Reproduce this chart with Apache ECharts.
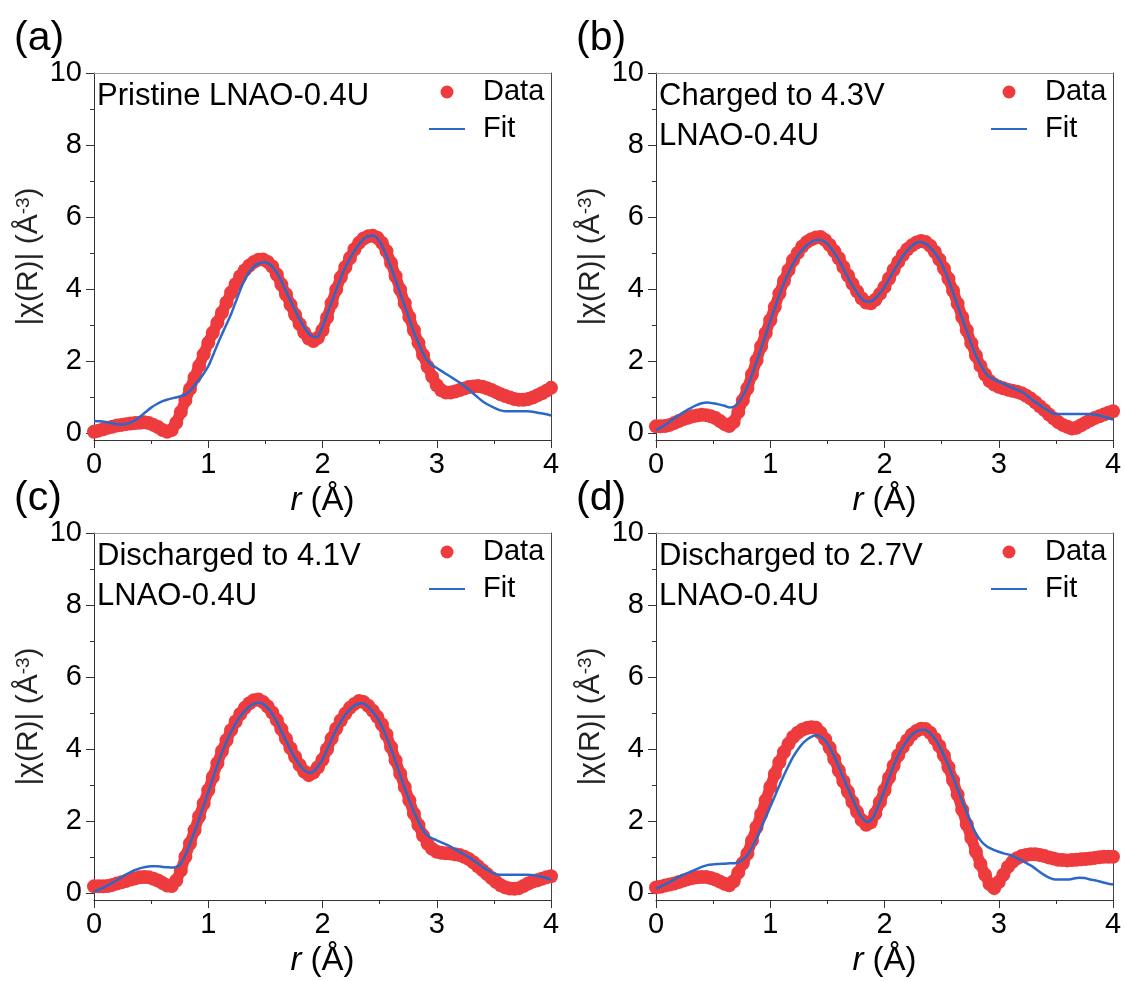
<!DOCTYPE html>
<html>
<head>
<meta charset="utf-8">
<title>EXAFS fits</title>
<script src="https://cdn.jsdelivr.net/npm/echarts@6/dist/echarts.min.js"></script>
<style>
  html, body { margin: 0; padding: 0; background: #fff; }
  #chart { width: 1126px; height: 981px; }
</style>
</head>
<body>
<div id="chart"></div>
<script>
// r grids (Å)
var rData = [
  0, 0.04, 0.08, 0.12, 0.16, 0.20, 0.24, 0.28, 0.32, 0.36,
  0.40, 0.44, 0.48, 0.52, 0.56, 0.60, 0.64, 0.68, 0.72, 0.76,
  0.80, 0.84, 0.88, 0.92, 0.96, 1.00, 1.04, 1.08, 1.12, 1.16,
  1.20, 1.24, 1.28, 1.32, 1.36, 1.40, 1.44, 1.48, 1.52, 1.56,
  1.60, 1.64, 1.68, 1.72, 1.76, 1.80, 1.84, 1.88, 1.92, 1.96,
  2.00, 2.04, 2.08, 2.12, 2.16, 2.20, 2.24, 2.28, 2.32, 2.36,
  2.40, 2.44, 2.48, 2.52, 2.56, 2.60, 2.64, 2.68, 2.72, 2.76,
  2.80, 2.84, 2.88, 2.92, 2.96, 3.00, 3.04, 3.08, 3.12, 3.16,
  3.20, 3.24, 3.28, 3.32, 3.36, 3.40, 3.44, 3.48, 3.52, 3.56,
  3.60, 3.64, 3.68, 3.72, 3.76, 3.80, 3.84, 3.88, 3.92, 3.96,
  4.00
];
var rFit = [
  0, 0.05, 0.10, 0.15, 0.20, 0.25, 0.30, 0.35, 0.40, 0.45,
  0.50, 0.55, 0.60, 0.65, 0.70, 0.75, 0.80, 0.85, 0.90, 0.95,
  1.00, 1.05, 1.10, 1.15, 1.20, 1.25, 1.30, 1.35, 1.40, 1.45,
  1.50, 1.55, 1.60, 1.65, 1.70, 1.75, 1.80, 1.85, 1.90, 1.95,
  2.00, 2.05, 2.10, 2.15, 2.20, 2.25, 2.30, 2.35, 2.40, 2.45,
  2.50, 2.55, 2.60, 2.65, 2.70, 2.75, 2.80, 2.85, 2.90, 2.95,
  3.00, 3.05, 3.10, 3.15, 3.20, 3.25, 3.30, 3.35, 3.40, 3.45,
  3.50, 3.55, 3.60, 3.65, 3.70, 3.75, 3.80, 3.85, 3.90, 3.95,
  4.00
];

// (a) pristine
var dataA = [
  0.03, 0.06, 0.10, 0.14, 0.17, 0.20, 0.22, 0.24, 0.26, 0.27,
  0.28, 0.29, 0.27, 0.22, 0.16, 0.08, 0.03, 0.08, 0.28, 0.58,
  0.90, 1.22, 1.54, 1.86, 2.18, 2.50, 2.78, 3.06, 3.34, 3.62,
  3.90, 4.13, 4.35, 4.52, 4.65, 4.75, 4.81, 4.82, 4.75, 4.62,
  4.40, 4.12, 3.85, 3.56, 3.28, 3.02, 2.79, 2.62, 2.55, 2.64,
  2.85, 3.20, 3.60, 3.98, 4.32, 4.60, 4.86, 5.10, 5.28, 5.40,
  5.46, 5.48, 5.42, 5.28, 5.05, 4.72, 4.35, 3.98, 3.60, 3.22,
  2.85, 2.50, 2.16, 1.84, 1.56, 1.32, 1.18, 1.12, 1.12, 1.15,
  1.19, 1.23, 1.27, 1.29, 1.30, 1.28, 1.24, 1.19, 1.13, 1.07,
  1.02, 0.98, 0.94, 0.92, 0.92, 0.94, 0.98, 1.04, 1.10, 1.17,
  1.25
];
var fitA = [
  0.33, 0.32, 0.30, 0.27, 0.24, 0.23, 0.26, 0.33, 0.44, 0.57,
  0.70, 0.80, 0.88, 0.93, 0.97, 1.01, 1.06, 1.20, 1.40, 1.60,
  1.85, 2.22, 2.60, 2.95, 3.30, 3.72, 4.12, 4.42, 4.62, 4.72,
  4.74, 4.65, 4.45, 4.15, 3.80, 3.47, 3.15, 2.88, 2.70, 2.66,
  2.95, 3.38, 3.80, 4.22, 4.60, 4.90, 5.15, 5.35, 5.47, 5.48,
  5.32, 5.00, 4.60, 4.15, 3.70, 3.25, 2.80, 2.42, 2.08, 1.90,
  1.80, 1.70, 1.60, 1.50, 1.40, 1.28, 1.15, 1.01, 0.88, 0.78,
  0.70, 0.63, 0.60, 0.60, 0.60, 0.60, 0.60, 0.58, 0.55, 0.52,
  0.48
];

// (b) charged to 4.3 V
var dataB = [
  0.18, 0.18, 0.19, 0.22, 0.27, 0.33, 0.38, 0.42, 0.46, 0.48,
  0.50, 0.49, 0.46, 0.41, 0.33, 0.24, 0.19, 0.30, 0.58, 0.90,
  1.23, 1.62, 2.01, 2.40, 2.77, 3.13, 3.50, 3.87, 4.22, 4.52,
  4.80, 5.00, 5.18, 5.30, 5.38, 5.43, 5.44, 5.36, 5.22, 5.05,
  4.85, 4.61, 4.37, 4.14, 3.93, 3.74, 3.62, 3.60, 3.70, 3.86,
  4.05, 4.29, 4.53, 4.75, 4.94, 5.10, 5.21, 5.29, 5.33, 5.30,
  5.20, 5.03, 4.82, 4.57, 4.28, 3.95, 3.59, 3.22, 2.85, 2.49,
  2.15, 1.86, 1.62, 1.44, 1.34, 1.28, 1.24, 1.20, 1.17, 1.14,
  1.10, 1.03, 0.95, 0.85, 0.74, 0.63, 0.51, 0.40, 0.30, 0.22,
  0.17, 0.12, 0.14, 0.21, 0.28, 0.35, 0.41, 0.46, 0.51, 0.56,
  0.60
];
var fitB = [
  0.08, 0.16, 0.26, 0.38, 0.49, 0.59, 0.68, 0.76, 0.82, 0.84,
  0.82, 0.79, 0.75, 0.70, 0.77, 0.98, 1.28, 1.70, 2.15, 2.62,
  3.10, 3.56, 4.00, 4.38, 4.70, 4.96, 5.15, 5.28, 5.36, 5.35,
  5.25, 5.05, 4.80, 4.50, 4.20, 3.94, 3.73, 3.64, 3.68, 3.84,
  4.05, 4.33, 4.60, 4.86, 5.07, 5.22, 5.30, 5.27, 5.15, 4.96,
  4.70, 4.33, 3.90, 3.45, 3.00, 2.56, 2.15, 1.84, 1.60, 1.50,
  1.42, 1.35, 1.28, 1.21, 1.14, 1.03, 0.90, 0.79, 0.68, 0.58,
  0.52, 0.52, 0.52, 0.52, 0.52, 0.52, 0.52, 0.50, 0.46, 0.42,
  0.37
];

// (c) discharged to 4.1 V
var dataC = [
  0.18, 0.18, 0.18, 0.19, 0.22, 0.26, 0.29, 0.33, 0.37, 0.40,
  0.43, 0.44, 0.43, 0.39, 0.34, 0.27, 0.20, 0.19, 0.34, 0.62,
  1.00, 1.37, 1.74, 2.12, 2.48, 2.85, 3.22, 3.60, 3.94, 4.24,
  4.52, 4.76, 4.97, 5.14, 5.27, 5.35, 5.37, 5.30, 5.18, 5.01,
  4.80, 4.55, 4.28, 4.02, 3.78, 3.55, 3.37, 3.27, 3.34, 3.49,
  3.70, 3.99, 4.29, 4.56, 4.79, 4.98, 5.14, 5.25, 5.33, 5.30,
  5.20, 5.06, 4.89, 4.68, 4.40, 4.05, 3.68, 3.31, 2.94, 2.57,
  2.20, 1.88, 1.59, 1.36, 1.22, 1.14, 1.11, 1.10, 1.09, 1.07,
  1.05, 1.00, 0.94, 0.85, 0.74, 0.63, 0.52, 0.41, 0.30, 0.21,
  0.15, 0.12, 0.11, 0.13, 0.19, 0.26, 0.31, 0.35, 0.39, 0.43,
  0.46
];
var fitC = [
  0.03, 0.10, 0.17, 0.26, 0.35, 0.45, 0.54, 0.62, 0.68, 0.72,
  0.74, 0.74, 0.72, 0.71, 0.70, 0.77, 1.05, 1.45, 1.87, 2.33,
  2.80, 3.27, 3.73, 4.13, 4.47, 4.76, 4.98, 5.15, 5.26, 5.28,
  5.20, 5.02, 4.75, 4.43, 4.10, 3.80, 3.55, 3.38, 3.34, 3.47,
  3.70, 4.05, 4.40, 4.70, 4.95, 5.13, 5.24, 5.27, 5.17, 4.99,
  4.75, 4.41, 4.00, 3.55, 3.08, 2.65, 2.25, 1.92, 1.65, 1.53,
  1.46, 1.39, 1.32, 1.23, 1.14, 1.05, 0.95, 0.84, 0.72, 0.62,
  0.54, 0.50, 0.50, 0.50, 0.50, 0.50, 0.50, 0.49, 0.46, 0.42,
  0.37
];

// (d) discharged to 2.7 V
var dataD = [
  0.15, 0.17, 0.20, 0.23, 0.26, 0.30, 0.34, 0.38, 0.41, 0.43,
  0.44, 0.44, 0.41, 0.37, 0.31, 0.25, 0.21, 0.32, 0.56, 0.82,
  1.09, 1.45, 1.82, 2.19, 2.57, 2.94, 3.30, 3.63, 3.91, 4.14,
  4.33, 4.45, 4.53, 4.58, 4.60, 4.59, 4.45, 4.27, 4.03, 3.72,
  3.40, 3.10, 2.81, 2.52, 2.25, 2.02, 1.89, 1.96, 2.20, 2.52,
  2.85, 3.20, 3.53, 3.82, 4.05, 4.24, 4.40, 4.50, 4.56, 4.55,
  4.45, 4.28, 4.08, 3.82, 3.49, 3.13, 2.73, 2.31, 1.90, 1.52,
  1.14, 0.80, 0.50, 0.24, 0.13, 0.30, 0.50, 0.72, 0.86, 0.96,
  1.02, 1.05, 1.07, 1.07, 1.05, 1.02, 0.98, 0.95, 0.92, 0.91,
  0.90, 0.91, 0.92, 0.93, 0.94, 0.95, 0.97, 0.99, 1.00, 1.00,
  1.00
];
var fitD = [
  0.12, 0.19, 0.26, 0.35, 0.44, 0.51, 0.58, 0.65, 0.72, 0.77,
  0.79, 0.80, 0.81, 0.82, 0.83, 0.90, 1.05, 1.32, 1.65, 2.02,
  2.39, 2.76, 3.13, 3.47, 3.78, 4.02, 4.20, 4.32, 4.38, 4.32,
  4.15, 3.86, 3.50, 3.12, 2.76, 2.40, 2.10, 1.97, 2.10, 2.45,
  2.85, 3.28, 3.68, 4.00, 4.24, 4.42, 4.52, 4.53, 4.44, 4.24,
  3.96, 3.60, 3.22, 2.80, 2.39, 2.00, 1.65, 1.42, 1.28, 1.20,
  1.14, 1.09, 1.05, 0.98, 0.90, 0.81, 0.72, 0.60, 0.49, 0.41,
  0.37, 0.37, 0.37, 0.39, 0.42, 0.41, 0.37, 0.34, 0.30, 0.26,
  0.23
];

var panelTags = ['(a)', '(b)', '(c)', '(d)'];
var panelNotes = [
  'Pristine LNAO-0.4U',
  'Charged to 4.3V\nLNAO-0.4U',
  'Discharged to 4.1V\nLNAO-0.4U',
  'Discharged to 2.7V\nLNAO-0.4U'
];
var yMajor = [0, 2, 4, 6, 8, 10];
var yMinor = [1, 3, 5, 7, 9];
var xTicks = [0, 1, 2, 3, 4];

var FONT = '"Liberation Sans", Arial, sans-serif';
var RED = '#EE3B3D';
var BLUE = '#2C68C8';
var AXIS = '#333';

var panels = [
  { left: 94, top: 73, data: dataA, fit: fitA },
  { left: 656, top: 73, data: dataB, fit: fitB },
  { left: 94, top: 533, data: dataC, fit: fitC },
  { left: 656, top: 533, data: dataD, fit: fitD }
];
var W = 457, H = 367;

function pairs(xs, ys) {
  return xs.map(function (x, i) { return [x, ys[i]]; });
}

var option = {
  backgroundColor: '#fff',
  animation: false,
  textStyle: { fontFamily: FONT },
  grid: [], xAxis: [], yAxis: [], series: [], legend: [], graphic: []
};

panels.forEach(function (p, i) {
  option.grid.push({ left: p.left, top: p.top, width: W, height: H, containLabel: false });

  // bottom axis
  option.xAxis.push({
    gridIndex: i, type: 'value', position: 'bottom',
    min: 0, max: 4, interval: 1,
    axisLine: { show: true, onZero: false, lineStyle: { color: AXIS, width: 1 } },
    axisTick: { show: true, length: 8, lineStyle: { color: AXIS } },
    minorTick: { show: true, splitNumber: 2, length: 4, lineStyle: { color: AXIS } },
    axisLabel: {
      fontSize: 29, color: '#000', margin: 10, fontFamily: FONT,
      customValues: xTicks
    },
    splitLine: { show: false },
    name: '{i|r} (Å)',
    nameLocation: 'middle', nameGap: 44,
    nameTextStyle: {
      fontSize: 33, color: '#000', fontFamily: FONT,
      rich: { i: { fontStyle: 'italic', fontSize: 33, fontFamily: FONT, color: '#000' } }
    }
  });
  // top frame
  option.xAxis.push({
    gridIndex: i, type: 'value', position: 'top', min: 0, max: 4,
    axisLine: { show: true, onZero: false, lineStyle: { color: '#999', width: 1 } },
    axisTick: { show: false }, axisLabel: { show: false }, splitLine: { show: false }
  });

  // left axis, major ticks and labels
  option.yAxis.push({
    gridIndex: i, type: 'value', position: 'left', min: -0.2, max: 10,
    axisLine: { show: true, onZero: false, lineStyle: { color: AXIS, width: 1 } },
    axisTick: { show: true, length: 8, customValues: yMajor, lineStyle: { color: AXIS } },
    axisLabel: { fontSize: 29, color: '#000', margin: 12, fontFamily: FONT, customValues: yMajor },
    splitLine: { show: false },
    name: '|χ(R)| (Å{s|-3})',
    nameLocation: 'middle', nameRotate: 90, nameGap: 50,
    nameTextStyle: {
      fontSize: 30, color: '#222', fontFamily: FONT,
      rich: { s: { fontSize: 19, verticalAlign: 'top', fontFamily: FONT, color: '#222' } }
    }
  });
  // left axis, minor ticks
  option.yAxis.push({
    gridIndex: i, type: 'value', position: 'left', min: -0.2, max: 10,
    axisLine: { show: false },
    axisTick: { show: true, length: 4, customValues: yMinor, lineStyle: { color: AXIS } },
    axisLabel: { show: false }, splitLine: { show: false }
  });
  // right frame
  option.yAxis.push({
    gridIndex: i, type: 'value', position: 'right', min: -0.2, max: 10,
    axisLine: { show: true, onZero: false, lineStyle: { color: '#444', width: 1 } },
    axisTick: { show: false }, axisLabel: { show: false }, splitLine: { show: false }
  });

  // thin band joining the dense data points (no legend entry)
  option.series.push({
    name: 'band', type: 'line',
    xAxisIndex: i * 2, yAxisIndex: i * 3,
    symbol: 'none', silent: true,
    lineStyle: { color: RED, width: 11, cap: 'round', join: 'round' },
    z: 1,
    data: pairs(rData, p.data)
  });
  option.series.push({
    name: 'Data', type: 'scatter',
    xAxisIndex: i * 2, yAxisIndex: i * 3,
    symbol: 'circle', symbolSize: 14,
    itemStyle: { color: RED, opacity: 1 },
    z: 2,
    data: pairs(rData, p.data)
  });
  option.series.push({
    name: 'Fit', type: 'line',
    xAxisIndex: i * 2, yAxisIndex: i * 3,
    symbol: 'none', smooth: 0.3,
    lineStyle: { color: BLUE, width: 2.5 },
    itemStyle: { color: BLUE },
    z: 3,
    data: pairs(rFit, p.fit)
  });

  option.legend.push({
    data: ['Data', { name: 'Fit', itemStyle: { opacity: 0 } }],
    orient: 'vertical',
    left: p.left + 334, top: p.top + 4,
    padding: 0, itemGap: 7,
    itemWidth: 36, itemHeight: 13,
    textStyle: { fontSize: 29, color: '#000', fontFamily: FONT, lineHeight: 30, padding: [0, 0, 0, 13] },
    selectedMode: false
  });

  option.graphic.push({
    type: 'text', left: p.left + 3, top: p.top + 3,
    style: { text: panelNotes[i], fontSize: 31, fill: '#000', fontFamily: FONT, lineHeight: 40 }
  });
  option.graphic.push({
    type: 'text', left: p.left - 80, top: p.top - 55,
    style: { text: panelTags[i], fontSize: 41, fill: '#000', fontFamily: FONT }
  });
});

var myChart = echarts.init(document.getElementById('chart'));
myChart.setOption(option);
</script>
</body>
</html>
